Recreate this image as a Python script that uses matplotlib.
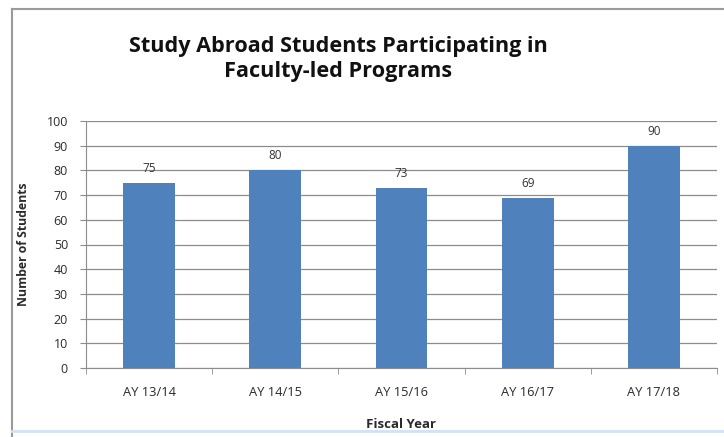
import matplotlib
matplotlib.use("Agg")
import matplotlib.pyplot as plt
from matplotlib.ticker import FixedLocator, MultipleLocator

categories = ["AY 13/14", "AY 14/15", "AY 15/16", "AY 16/17", "AY 17/18"]
values = [75, 80, 73, 69, 90]
title = "Study Abroad Students Participating in\nFaculty-led Programs"
xlabel = "Fiscal Year"
ylabel = "Number of Students"

W, H = 724, 437
fig = plt.figure(figsize=(W / 100, H / 100), dpi=100)
fig.patch.set_facecolor("white")

# outer frame of the chart
fig.add_artist(plt.Line2D([12 / W, 12 / W], [0, 1 - 9 / H], color="#9a9a9a", lw=1.5, transform=fig.transFigure))
fig.add_artist(plt.Line2D([12 / W, 1], [1 - 9 / H, 1 - 9 / H], color="#9a9a9a", lw=1.5, transform=fig.transFigure))
fig.add_artist(plt.Line2D([12 / W, 1], [1 - 431 / H, 1 - 431 / H], color="#cfe3f5", lw=2, transform=fig.transFigure))

left, right, top, bottom = 86, 717, 121, 368
ax = fig.add_axes([left / W, 1 - bottom / H, (right - left) / W, (bottom - top) / H])

font = "Open Sans"
tc = "#2a2a2a"
x = list(range(len(categories)))
ax.bar(x, values, width=0.41, color="#4f81bd", zorder=3)
for xi, v in zip(x, values):
    ax.text(xi, v + 3.2, str(v), ha="center", va="bottom", fontsize=8.5, color="#333333", family=font)

ax.set_xlim(-0.5, len(categories) - 0.5)
ax.set_ylim(0, 100)
ax.yaxis.set_major_locator(MultipleLocator(10))
ax.grid(axis="y", color="#8c8c8c", lw=0.9, zorder=0)
for s in ["top", "right"]:
    ax.spines[s].set_visible(False)
ax.spines["left"].set_color("#8c8c8c")
ax.spines["bottom"].set_color("#8c8c8c")
ax.set_xticks(x)
ax.set_xticklabels(categories, fontsize=9.3, family=font, color=tc)
ax.tick_params(axis="x", length=0, pad=13)
ax.xaxis.set_minor_locator(FixedLocator([i + 0.5 for i in range(-1, len(categories))]))
ax.tick_params(axis="x", which="minor", length=4, color="#8c8c8c", direction="out")
ax.tick_params(axis="y", length=4, color="#8c8c8c", labelsize=9, pad=9, labelcolor=tc)
for lab in ax.get_yticklabels():
    lab.set_family(font)

ax.set_xlabel(xlabel, fontsize=9.5, fontweight="bold", family=font, labelpad=14, color=tc)
ax.set_ylabel(ylabel, fontsize=8.8, fontweight="bold", family=font, labelpad=12, color=tc)

fig.text(338 / W, 1 - 59 / H, title, ha="center", va="center", fontsize=15.6, fontweight="bold",
         family=font, color="#111111", linespacing=1.3)

fig.savefig("out.png", dpi=100)
